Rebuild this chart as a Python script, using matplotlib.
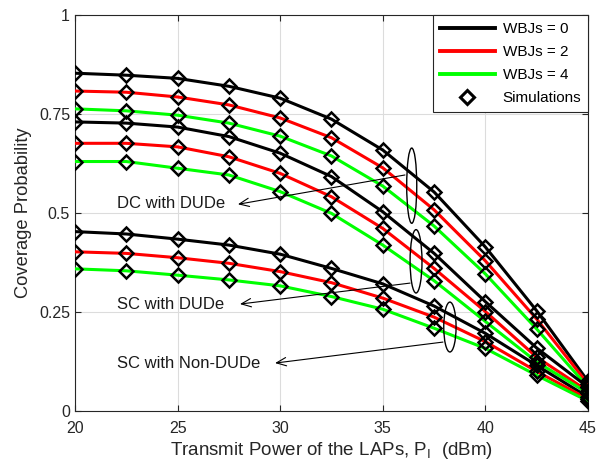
import matplotlib
matplotlib.use("Agg")
import matplotlib.pyplot as plt
from matplotlib.lines import Line2D
from matplotlib.patches import Ellipse

plt.rcParams['font.family'] = ['Liberation Sans', 'DejaVu Sans']
plt.rcParams['mathtext.fontset'] = 'custom'
plt.rcParams['mathtext.rm'] = 'Liberation Sans'

power = [20, 22.5, 25, 27.5, 30, 32.5, 35, 37.5, 40, 42.5, 45]

# DC with DUDe
dc_w0 = [0.853, 0.848, 0.840, 0.820, 0.790, 0.737, 0.659, 0.553, 0.414, 0.253, 0.075]
dc_w2 = [0.808, 0.805, 0.793, 0.773, 0.740, 0.690, 0.614, 0.508, 0.379, 0.232, 0.068]
dc_w4 = [0.763, 0.758, 0.747, 0.727, 0.694, 0.644, 0.568, 0.467, 0.346, 0.207, 0.060]

# SC with DUDe
scd_w0 = [0.730, 0.727, 0.717, 0.693, 0.651, 0.592, 0.503, 0.398, 0.276, 0.159, 0.060]
scd_w2 = [0.676, 0.676, 0.667, 0.642, 0.600, 0.541, 0.461, 0.360, 0.251, 0.136, 0.050]
scd_w4 = [0.630, 0.630, 0.613, 0.596, 0.554, 0.499, 0.419, 0.329, 0.226, 0.124, 0.045]

# SC with Non-DUDe
scn_w0 = [0.453, 0.447, 0.434, 0.419, 0.396, 0.360, 0.321, 0.265, 0.196, 0.115, 0.035]
scn_w2 = [0.402, 0.398, 0.387, 0.373, 0.352, 0.324, 0.285, 0.237, 0.175, 0.100, 0.030]
scn_w4 = [0.359, 0.354, 0.343, 0.331, 0.316, 0.289, 0.257, 0.209, 0.158, 0.090, 0.025]

colors = ['black', (1, 0, 0), (0, 1, 0)]
legend_labels = ['WBJs = 0', 'WBJs = 2', 'WBJs = 4', 'Simulations']
groups = [[dc_w0, dc_w2, dc_w4], [scd_w0, scd_w2, scd_w4], [scn_w0, scn_w2, scn_w4]]

# (text, text pos, arrow tip, arrow start, ellipse center, ellipse w/h)
notes = [
  ('DC with DUDe', (22.05, 0.523), (27.94, 0.522), (36.08, 0.596),
   (36.41, 0.569), (0.49, 0.19)),
  ('SC with DUDe', (22.05, 0.268), (28.04, 0.270), (36.33, 0.323),
   (36.62, 0.378), (0.58, 0.16)),
  ('SC with Non-DUDe', (22.05, 0.121), (29.75, 0.121), (37.93, 0.174),
   (38.27, 0.212), (0.60, 0.126)),
]


def main():
  fig = plt.figure(figsize=(5.96, 4.69), dpi=100)
  ax = fig.add_axes([0.1258, 0.1237, 0.8608, 0.8443])

  for grp in groups:
    for vals, c in zip(grp, colors):
      ax.plot(power, vals, color=c, lw=2.2, zorder=3)
  for grp in groups:
    for vals in grp:
      ax.plot(power, vals, ls='none', marker='D', ms=7.5, mfc='none',
              mec='black', mew=1.8, zorder=4)

  for txt, tpos, tip, start, ec, (w, h) in notes:
    ax.add_patch(Ellipse(ec, w, h, fill=False, ec='black', lw=1.0, zorder=5))
    ax.annotate('', xy=tip, xytext=start,
                arrowprops=dict(arrowstyle='->,head_length=0.7,head_width=0.3',
                                color='black', lw=0.8, shrinkA=0, shrinkB=0),
                zorder=5)
    ax.text(tpos[0], tpos[1], txt, fontsize=12, va='center', ha='left',
            color='#1a1a1a', zorder=5)

  ax.set_xlim(20, 45)
  ax.set_ylim(0, 1)
  ax.set_xticks([20, 25, 30, 35, 40, 45])
  ax.set_yticks([0, 0.25, 0.5, 0.75, 1])
  ax.set_yticklabels(['0', '0.25', '0.5', '0.75', '1'])
  ax.tick_params(direction='in', top=True, right=True, labelsize=11.5,
                 length=4, width=0.8, colors='#262626', labelcolor='#262626')
  ax.tick_params(axis='x', pad=7)
  ax.grid(True, color='#dcdcdc', lw=0.8)
  ax.set_axisbelow(True)
  for s in ax.spines.values():
    s.set_color('#262626')
    s.set_linewidth(0.8)

  ax.set_xlabel(r'Transmit Power of the LAPs, P$_{\mathrm{I}}$  (dBm)',
                fontsize=13.5, color='#262626', labelpad=3)
  ax.set_ylabel('Coverage Probability', fontsize=13.2, color='#262626', labelpad=5)

  handles = [Line2D([], [], color=c, lw=2.8) for c in colors]
  handles.append(Line2D([], [], ls='none', marker='D', ms=7.5, mfc='none',
                        mec='black', mew=2.2))
  leg = ax.legend(handles, legend_labels, loc='upper right', fontsize=11,
                  handlelength=3.6, fancybox=False, framealpha=1,
                  edgecolor='#262626', borderaxespad=0.0, labelspacing=0.6,
                  borderpad=0.45, handletextpad=0.5)
  leg.get_frame().set_linewidth(0.8)

  plt.savefig('out.png', dpi=100)


if __name__ == '__main__':
  main()
